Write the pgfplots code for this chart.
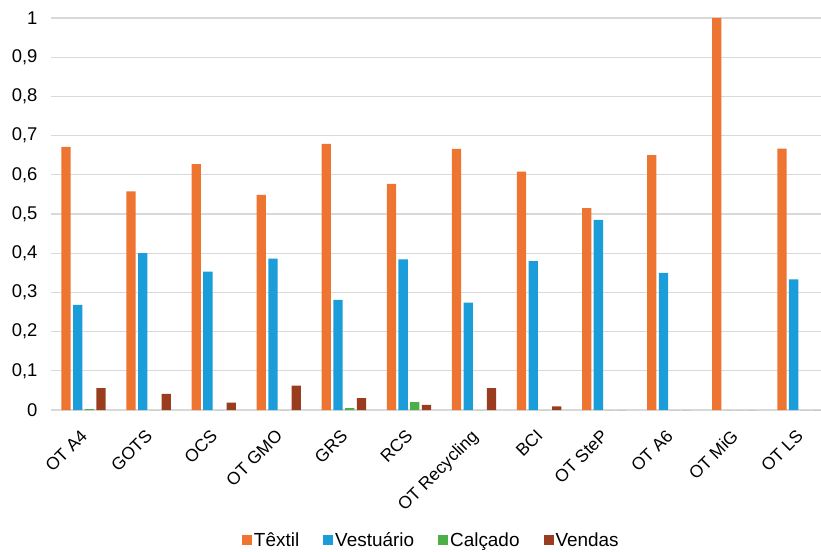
\documentclass[border=0pt]{standalone}
\usepackage{pgfplots}
\pgfplotsset{compat=1.18}
\usepackage{fontspec}
\setmainfont{Liberation Sans}
\definecolor{ctex}{HTML}{ED7531}
\definecolor{cves}{HTML}{1B9DD9}
\definecolor{ccal}{HTML}{4CAF48}
\definecolor{cven}{HTML}{9A3D1E}
\definecolor{cgrid}{HTML}{D9D9D9}
\begin{document}
\begin{tikzpicture}
\begin{axis}[
  at={(0,0)}, anchor=south west,
  scale only axis, width=781bp, height=392bp,
  xmin=-0.5, xmax=11.5, ymin=0, ymax=1,
  ytick={0,0.1,...,1.01},
  xtick={0,...,11},
  xticklabels={OT A4,GOTS,OCS,OT GMO,GRS,RCS,OT Recycling,BCI,OT SteP,OT A6,OT MiG,OT LS},
  y tick label style={xshift=-10bp, font=\fontsize{18.5}{21}\selectfont},
  x tick label style={xshift=-4bp, yshift=-17bp, rotate=45, anchor=north east, inner sep=1bp, font=\fontsize{17.5}{20}\selectfont},
  /pgf/number format/assume math mode=true,
  /pgf/number format/use comma,
  /pgf/number format/fixed,
  /pgf/number format/precision=1,
  major tick length=0pt,
  axis y line*=left,
  y axis line style={draw=none},
  axis x line*=bottom,
  x axis line style={draw=cgrid, line width=1.3bp, -},
  ymajorgrids, grid style={draw=cgrid, line width=1.3bp},
  ybar=2.4bp, bar width=9.3bp,
  legend columns=4,
  legend style={at={(0.487,-0.332)}, anchor=center, draw=none, fill=none,
    font=\fontsize{19}{21}\selectfont,
    /tikz/every even column/.append style={column sep=22bp}},
  legend image code/.code={\fill[#1] (0bp,-5bp) rectangle (10bp,5bp);},
  clip=false,
]
\addplot[fill=ctex, draw=none] coordinates {(0,0.671) (1,0.558) (2,0.627) (3,0.549) (4,0.679) (5,0.577) (6,0.666) (7,0.608) (8,0.515) (9,0.650) (10,1.0) (11,0.667)};
\addplot[fill=cves, draw=none] coordinates {(0,0.268) (1,0.400) (2,0.353) (3,0.386) (4,0.281) (5,0.384) (6,0.274) (7,0.380) (8,0.485) (9,0.350) (10,0) (11,0.333)};
\addplot[fill=ccal, draw=none] coordinates {(0,0.002) (1,0) (2,0) (3,0) (4,0.005) (5,0.020) (6,0) (7,0) (8,0) (9,0) (10,0) (11,0)};
\addplot[fill=cven, draw=none] coordinates {(0,0.056) (1,0.041) (2,0.019) (3,0.062) (4,0.030) (5,0.013) (6,0.056) (7,0.009) (8,0) (9,0) (10,0) (11,0)};
\legend{Têxtil,Vestuário,Calçado,Vendas}
\end{axis}
\pgfresetboundingbox
\useasboundingbox (-51bp,-142bp) rectangle (770bp,410bp);
\end{tikzpicture}
\end{document}
